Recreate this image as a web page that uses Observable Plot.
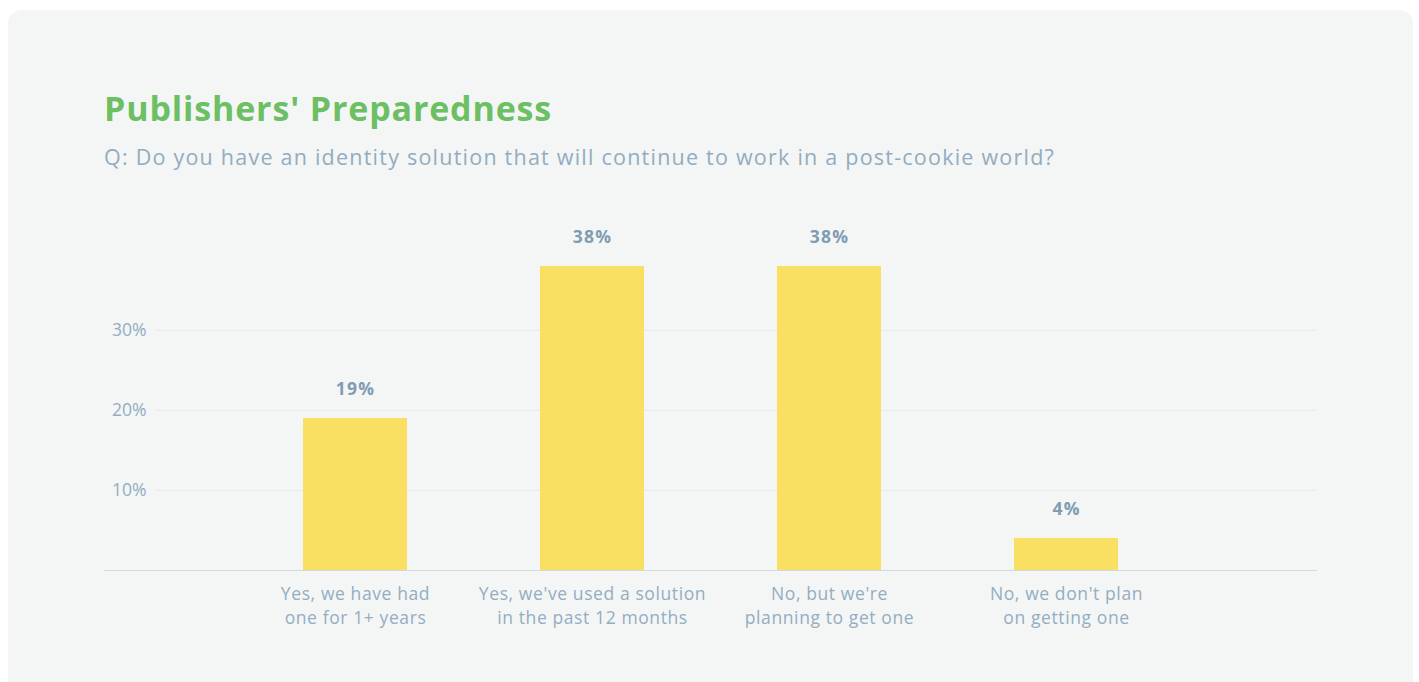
<!DOCTYPE html>
<html>
<head>
<meta charset="utf-8">
<script src="https://cdn.jsdelivr.net/npm/d3@7"></script>
<script src="https://cdn.jsdelivr.net/npm/@observablehq/plot@0.6"></script>
<style>
  html, body { margin: 0; padding: 0; background: #ffffff; }
  body { width: 1419px; height: 682px; overflow: hidden; position: relative; font-family: "Open Sans", Lato, sans-serif; }
  #card { position: absolute; left: 8px; top: 10px; width: 1405px; height: 690px; background: #f4f6f5; border-radius: 14px; }
  #title { position: absolute; left: 96px; top: 78px; margin: 0; font-size: 34px; line-height: 1.2; font-weight: 700; color: #6cbf63; letter-spacing: 0.85px; }
  #subtitle { position: absolute; left: 96px; top: 134px; margin: 0; font-size: 21.5px; line-height: 1.2; font-weight: 400; color: #92acc1; letter-spacing: 1.23px; }
  #chart { position: absolute; left: 0; top: 200px; }
</style>
</head>
<body>
<div id="card">
  <h1 id="title">Publishers' Preparedness</h1>
  <p id="subtitle">Q: Do you have an identity solution that will continue to work in a post-cookie world?</p>
  <div id="chart"></div>
</div>
<script>
const categories = [
  "Yes, we have had\none for 1+ years",
  "Yes, we've used a solution\nin the past 12 months",
  "No, but we're\nplanning to get one",
  "No, we don't plan\non getting one"
];
const values = [19, 38, 38, 4];
const yTicks = [10, 20, 30];

const data = categories.map((c, i) => ({category: c, value: values[i]}));

const textColor = "#93adc2";

const chart = Plot.plot({
  width: 1405,
  height: 430,
  marginLeft: 96,
  marginRight: 96,
  marginTop: 40,
  marginBottom: 70,
  style: {fontFamily: "'Open Sans', Lato, sans-serif", background: "transparent", overflow: "visible"},
  x: {domain: categories, paddingInner: 0.563, paddingOuter: 0.83, label: null},
  y: {domain: [0, 40], label: null},
  marks: [
    Plot.ruleY(yTicks, {stroke: "#e6ebee", strokeWidth: 1, insetLeft: 51}),
    Plot.barY(data, {x: "category", y: "value", fill: "#f9e063"}),
    Plot.ruleY([0], {stroke: "#cfdae2", strokeWidth: 1.2}),
    Plot.text(data, {x: "category", y: "value", text: d => d.value + "%", dy: -29, fontSize: 17.5, fontWeight: 700, fill: "#7f9cb3"}),
    Plot.axisY(yTicks, {tickSize: 0, tickPadding: -42, tickFormat: d => d + "%", fontSize: 17.5, fontWeight: 400, fill: textColor, label: null}),
    Plot.axisX({tickSize: 0, tickPadding: 13, fontSize: 17.5, fontWeight: 400, lineHeight: 1.36, fill: textColor, label: null})
  ]
});
chart.querySelectorAll('g[aria-label="x-axis tick label"] text').forEach(t => t.style.letterSpacing = "0.6px");
chart.querySelectorAll('g[aria-label="text"] text').forEach(t => t.style.letterSpacing = "1.2px");
document.getElementById("chart").appendChild(chart);
</script>
</body>
</html>
